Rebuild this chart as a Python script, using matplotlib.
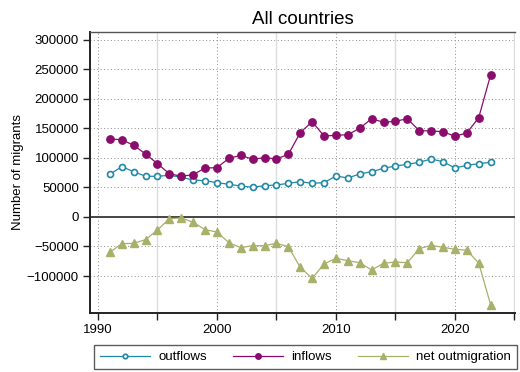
import numpy as np
import matplotlib
matplotlib.use("Agg")
import matplotlib.pyplot as plt
from matplotlib.ticker import MultipleLocator

plt.rcParams['font.family'] = ['Liberation Sans', 'DejaVu Sans']

# yearly migration counts, all countries
years = list(range(1991, 2024))
outflows = [72400, 85300, 76800, 69000, 69000, 70700, 67300, 62700, 61500, 58200,
            55400, 52500, 50300, 53100, 54200, 57100, 59800, 57100, 58200, 69500,
            66100, 72900, 76800, 82500, 86400, 89300, 92700, 98300, 93700, 83000,
            87600, 90300, 92700]
inflows = [132200, 131000, 121500, 106800, 90300, 73400, 69000, 71700, 83000, 83600,
           99400, 104500, 97800, 100600, 98300, 106200, 142900, 161500, 137300, 138400,
           139500, 150300, 166600, 160500, 162200, 166600, 146300, 145800, 144600, 136800,
           142400, 168300, 240700]
net_out = [-59800, -45200, -44600, -38400, -22000, -2800, -1700, -9000, -21500, -25400,
           -43500, -52000, -48600, -48600, -44600, -50300, -85300, -103900, -79700, -70000,
           -74100, -77500, -89800, -78500, -76300, -77500, -53700, -48000, -51400, -54700,
           -56400, -78000, -148600]

c_out = '#1f88a6'
c_in = '#8a0c6c'
c_net = '#a8b06a'

fig = plt.figure(figsize=(5.2, 3.72), dpi=100)
ax = fig.add_axes([90/520, 1-313/372, 425/520, 281/372])

ax.plot(years, outflows, color=c_out, lw=0.9, marker='o', ms=4.3,
        mfc='white', mec=c_out, mew=1.2, label='outflows', zorder=4)
ax.plot(years, inflows, color=c_in, lw=0.9, marker='o', ms=5.3,
        mfc=c_in, mec=c_in, label='inflows', zorder=4)
ax.plot(years, net_out, color=c_net, lw=0.9, marker='^', ms=6.3,
        mfc=c_net, mec=c_net, label='net outmigration', zorder=4)

ax.set_xlim(1989.33, 2025.05)
ax.set_ylim(-162700, 313500)

ax.xaxis.set_major_locator(MultipleLocator(10))
ax.xaxis.set_minor_locator(MultipleLocator(5))
ax.set_yticks(np.arange(-100000, 300001, 50000))

# grid: dotted on major ticks, light solid on the half-decades
for y in np.arange(-100000, 300001, 50000):
    if y != 0:
        ax.axhline(y, color='#8c8c8c', lw=0.7, ls=(0, (1, 2.5)), zorder=1)
for x in [1990, 2000, 2010, 2020]:
    ax.axvline(x, color='#8c8c8c', lw=0.7, ls=(0, (1, 2.5)), zorder=1)
for x in [1995, 2005, 2015, 2025]:
    ax.axvline(x, color='#dcdcdc', lw=1.0, zorder=1)
ax.axhline(0, color='#444444', lw=1.4, zorder=2)

for s in ['left', 'bottom']:
    ax.spines[s].set_linewidth(1.4)
    ax.spines[s].set_color('#222222')
ax.spines['top'].set_color('#555555')
ax.spines['top'].set_linewidth(1.0)
ax.spines['right'].set_visible(False)

ax.tick_params(axis='both', which='both', length=5, width=1, color='#222222',
               labelsize=9.5, pad=3)
ax.tick_params(axis='x', which='minor', labelbottom=False)

ax.set_ylabel('Number of migrants', fontsize=9.5, labelpad=2)
ax.set_title('All countries', fontsize=13.5, pad=6)

fig.legend(loc='center', bbox_to_anchor=(305.5/520, 1-357/372), ncol=3,
           fontsize=9.5, handlelength=3.8, handletextpad=0.6, columnspacing=2.0,
           frameon=True, fancybox=False, edgecolor='#333333', borderpad=0.45,
           borderaxespad=0, markerscale=0.75)
fig.legends[0].get_frame().set_linewidth(1.0)

fig.savefig('out.png', dpi=100)
